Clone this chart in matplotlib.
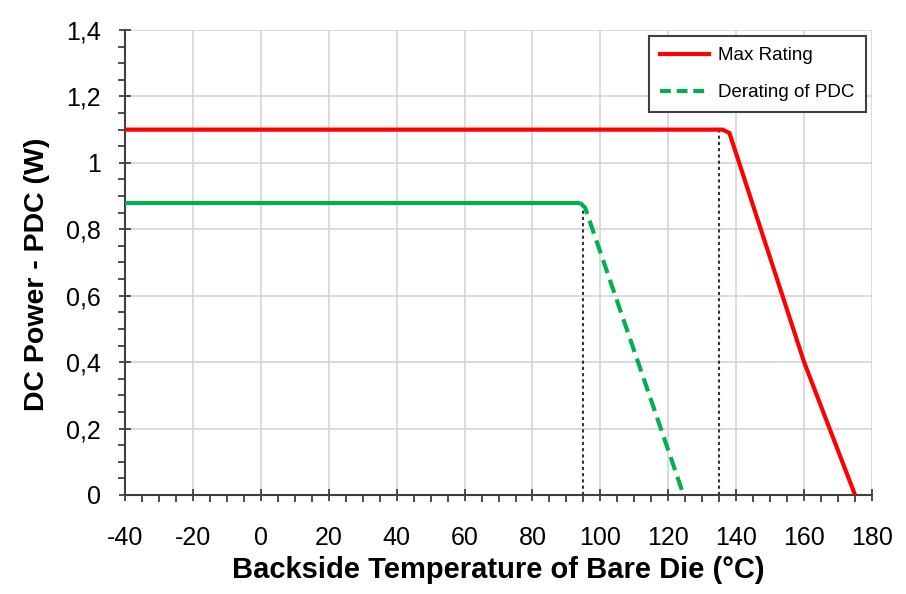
import numpy as np
import matplotlib.pyplot as plt
from matplotlib.ticker import MultipleLocator, FuncFormatter

# data
max_temp = [-40, 136, 138, 160, 175]
max_power = [1.1, 1.1, 1.09, 0.4, 0.0]

der_temp = [-40, 94, 95.5, 124.5]
der_power = [0.88, 0.88, 0.865, 0.0]

# knee markers (dotted guides)
knee_temp = [95, 135]
knee_power = [0.88, 1.1]

plt.rcParams['font.family'] = ['Liberation Sans', 'DejaVu Sans']
plt.rcParams['axes.unicode_minus'] = False

fig = plt.figure(figsize=(9.06, 5.94), dpi=100)
ax = fig.add_axes([0.138, 0.1667, 0.8245, 0.7828])

green = '#00b050'
ax.plot(max_temp, max_power, color='#ff0000', lw=3, label='Max Rating', zorder=4)
# flat part renders solid, sloped part dashed
ax.plot(der_temp[:2], der_power[:2], color=green, lw=3, zorder=4,
        solid_capstyle='butt')
ax.plot(der_temp[1:], der_power[1:], color=green, lw=3, ls=(0, (3.3, 1.7)),
        zorder=4)
ax.plot([], [], color=green, lw=3, ls=(0, (2.6, 1.4)), label='Derating of PDC')
for t, p in zip(knee_temp, knee_power):
    ax.plot([t, t], [0, p], color='#333333', lw=1.5, ls=(0, (1.5, 1.5)), zorder=3)

ax.set_xlim(-40, 180)
ax.set_ylim(0, 1.4)
ax.xaxis.set_major_locator(MultipleLocator(20))
ax.xaxis.set_minor_locator(MultipleLocator(5))
ax.yaxis.set_major_locator(MultipleLocator(0.2))
ax.yaxis.set_minor_locator(MultipleLocator(0.05))


def comma_fmt(v, pos):
    s = ('%.1f' % v).rstrip('0').rstrip('.')
    return s.replace('.', ',')


ax.yaxis.set_major_formatter(FuncFormatter(comma_fmt))

ax.grid(True, which='major', color='#d4d4d4', lw=1.2, zorder=0)
ax.set_axisbelow(True)
for side in ['top', 'right']:
    ax.spines[side].set_visible(False)
for side in ['left', 'bottom']:
    ax.spines[side].set_color('#404040')
    ax.spines[side].set_linewidth(1.5)

ax.tick_params(which='major', direction='inout', length=9, width=1.3,
               color='#404040', labelsize=18)
ax.tick_params(axis='x', which='major', pad=18)
ax.tick_params(axis='y', which='major', pad=13)
ax.tick_params(which='minor', direction='out', length=5, width=1.3,
               color='#404040')

ax.set_xlabel('Backside Temperature of Bare Die (°C)', fontsize=21,
              fontweight='bold', labelpad=4)
ax.set_ylabel('DC Power - PDC (W)', fontsize=20.5, fontweight='bold')
ax.yaxis.set_label_coords(-0.1, 0.475)

leg = ax.legend(loc='upper right', bbox_to_anchor=(0.992, 0.987), fontsize=13.5,
                frameon=True, fancybox=False, edgecolor='#404040',
                handlelength=2.6, handletextpad=0.5, borderpad=0.6,
                labelspacing=1.05, borderaxespad=0)
leg.get_frame().set_linewidth(1.5)
leg.get_frame().set_alpha(1)

fig.savefig('out.png', dpi=100)
